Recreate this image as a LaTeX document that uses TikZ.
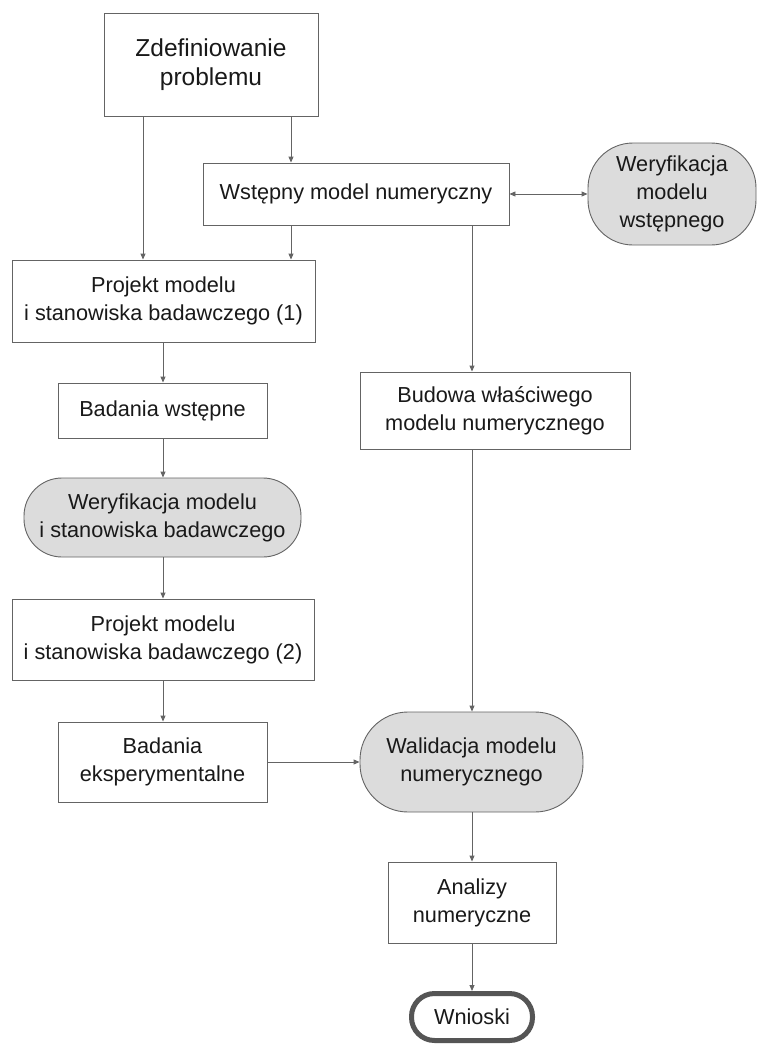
\documentclass[tikz,border=0pt]{standalone}
\usepackage{fontspec}
\setmainfont{Liberation Sans}
\usetikzlibrary{arrows.meta,calc}
\definecolor{linec}{RGB}{100,100,100}
\definecolor{fillc}{RGB}{220,220,220}
\definecolor{textc}{RGB}{25,25,25}
\definecolor{thickc}{RGB}{85,85,85}
\begin{document}
\begin{tikzpicture}[x=1pt,y=-1pt,
  base/.style={draw=linec,line width=0.9pt,inner sep=0pt,align=center,text=textc,
    font=\fontsize{21.7}{28}\selectfont},
  boxnode/.style={base,rectangle},
  termnode/.style={base,rounded corners=#1,fill=fillc},
  termnode/.default=40pt,
  arr/.style={draw=linec,line width=0.9pt,-{Triangle[length=6pt,width=5pt]}},
  darr/.style={draw=linec,line width=0.9pt,{Triangle[length=6pt,width=5pt]}-{Triangle[length=6pt,width=5pt]}}
]
\useasboundingbox (0,0) rectangle (759,1044);
\fill[white] (0,0) rectangle (759,1044);

\node[boxnode,minimum width=214pt,minimum height=103pt,font=\fontsize{24.5}{29}\selectfont] (zdef) at (211,64.5) {Zdefiniowanie\\problemu};
\node[boxnode,minimum width=306pt,minimum height=62pt] (wst) at (356,194) {Wstępny model numeryczny};
\node[termnode=45pt,minimum width=168pt,minimum height=102pt] (wer1) at (672,194) {Weryfikacja\\modelu\\wstępnego};
\node[boxnode,minimum width=303pt,minimum height=82pt] (proj1) at (163.5,301) {Projekt modelu\\i stanowiska badawczego (1)};
\node[boxnode,minimum width=209pt,minimum height=55pt] (bw) at (162.5,410.5) {Badania wstępne};
\node[termnode=38pt,minimum width=277pt,minimum height=79pt] (wer2) at (162.5,517.5) {Weryfikacja modelu\\i stanowiska badawczego};
\node[boxnode,minimum width=302pt,minimum height=81pt] (proj2) at (163,639.5) {Projekt modelu\\i stanowiska badawczego (2)};
\node[boxnode,minimum width=209pt,minimum height=80pt] (be) at (162.5,762) {Badania\\eksperymentalne};
\node[boxnode,minimum width=270pt,minimum height=77pt] (bud) at (495,410.5) {Budowa właściwego\\modelu numerycznego};
\node[termnode=48pt,minimum width=223pt,minimum height=100pt] (wal) at (471.5,762) {Walidacja modelu\\numerycznego};
\node[boxnode,minimum width=168pt,minimum height=81pt] (ana) at (472,902.5) {Analizy\\numeryczne};
\node[base,draw=thickc,line width=5pt,rounded corners=23pt,minimum width=121pt,minimum height=47pt] (wn) at (472,1017) {Wnioski};

\coordinate (cL) at (143,0);
\coordinate (cM) at (291,0);
\coordinate (cR) at (472,0);
\coordinate (cC) at (163,0);

\draw[arr] (zdef.south -| cL) -- (proj1.north -| cL);
\draw[arr] (zdef.south -| cM) -- (wst.north -| cM);
\draw[arr] (wst.south -| cM) -- (proj1.north -| cM);
\draw[arr] (wst.south -| cR) -- (bud.north -| cR);
\draw[darr] (wst.east) -- (wer1.west);
\draw[arr] (proj1.south -| cC) -- (bw.north -| cC);
\draw[arr] (bw.south -| cC) -- (wer2.north -| cC);
\draw[arr] (wer2.south -| cC) -- (proj2.north -| cC);
\draw[arr] (proj2.south -| cC) -- (be.north -| cC);
\draw[arr] (be.east) -- (wal.west);
\draw[arr] (bud.south -| cR) -- (wal.north -| cR);
\draw[arr] (wal.south -| cR) -- (ana.north -| cR);
\draw[arr] (ana.south -| cR) -- (wn.north -| cR);
\end{tikzpicture}
\end{document}
